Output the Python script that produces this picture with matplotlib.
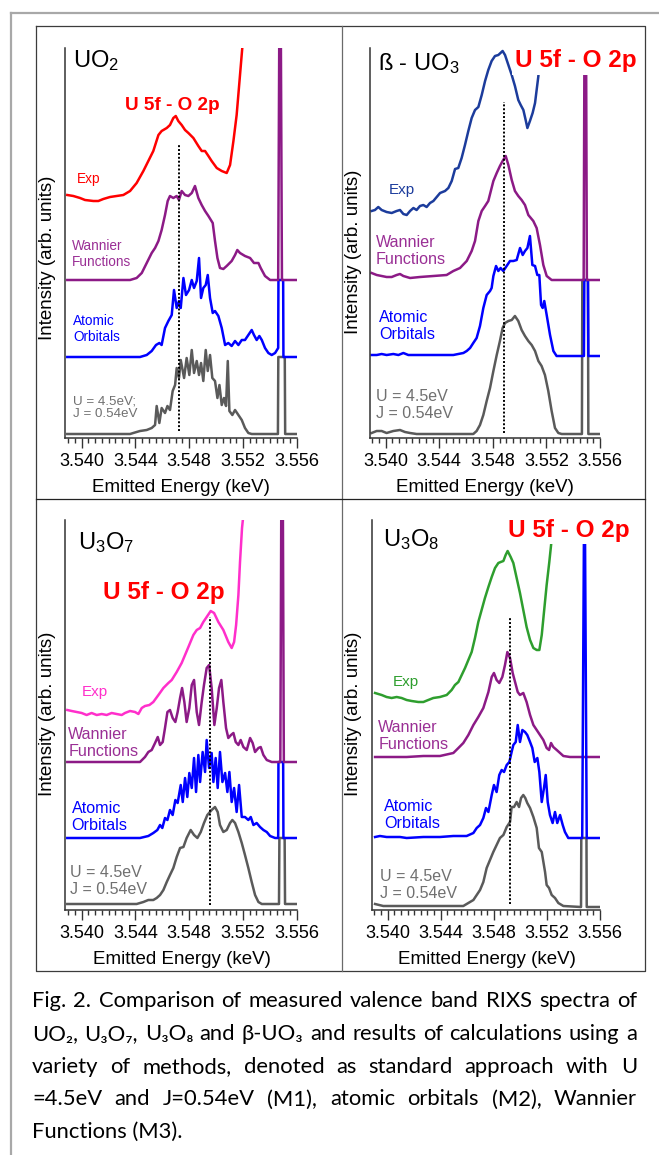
import matplotlib
matplotlib.use("Agg")
from matplotlib import pyplot as plt
from matplotlib.ticker import MultipleLocator
import numpy as np

plt.rcParams["font.family"] = ["Liberation Sans", "DejaVu Sans"]
plt.rcParams["mathtext.fontset"] = "custom"
plt.rcParams["mathtext.rm"] = "Liberation Sans"
plt.rcParams["mathtext.it"] = "Liberation Sans:italic"
plt.rcParams["mathtext.bf"] = "Liberation Sans:bold"

# spectra: (emitted energy keV, stacked intensity arb. units)
uo2_exp = [(3.53893, 243), (3.53938, 242), (3.53988, 240), (3.54025, 238), (3.54087, 237), (3.54124, 237),
           (3.54161, 239), (3.54211, 241), (3.54260, 242), (3.54310, 243), (3.54360, 247), (3.54409, 255),
           (3.54459, 267), (3.54496, 277), (3.54533, 287), (3.54571, 303), (3.54595, 307), (3.54633, 310),
           (3.54657, 313), (3.54682, 320), (3.54700, 322), (3.54719, 317), (3.54744, 313), (3.54769, 308),
           (3.54794, 305), (3.54831, 300), (3.54868, 292), (3.54893, 287), (3.54918, 287), (3.54943, 282),
           (3.54967, 277), (3.55005, 270), (3.55042, 267), (3.55079, 265), (3.55104, 273), (3.55129, 297),
           (3.55153, 323), (3.55178, 363), (3.55198, 395)]
uo2_wf = [(3.53893, 158), (3.54360, 158), (3.54409, 160), (3.54447, 165), (3.54484, 175), (3.54521, 185),
          (3.54546, 190), (3.54571, 197), (3.54595, 208), (3.54620, 223), (3.54640, 237), (3.54657, 242),
          (3.54682, 240), (3.54707, 242), (3.54724, 238), (3.54744, 247), (3.54769, 243), (3.54794, 242),
          (3.54819, 245), (3.54843, 252), (3.54868, 240), (3.54893, 233), (3.54918, 227), (3.54943, 222),
          (3.54975, 215), (3.54992, 197), (3.55010, 180), (3.55029, 170), (3.55054, 169), (3.55079, 172),
          (3.55116, 177), (3.55141, 183), (3.55158, 188), (3.55178, 185), (3.55215, 182), (3.55253, 180),
          (3.55282, 175), (3.55315, 175), (3.55332, 170), (3.55364, 162), (3.55402, 158), (3.55462, 158),
          (3.55470, 400), (3.55482, 400), (3.55490, 158), (3.55600, 158)]
uo2_ao = [(3.53893, 81), (3.54434, 81), (3.54484, 83), (3.54521, 87), (3.54553, 93), (3.54578, 95),
          (3.54595, 93), (3.54620, 110), (3.54645, 117), (3.54670, 123), (3.54687, 148), (3.54707, 130),
          (3.54724, 137), (3.54737, 130), (3.54757, 160), (3.54776, 143), (3.54799, 148), (3.54819, 158),
          (3.54836, 150), (3.54856, 157), (3.54873, 180), (3.54888, 140), (3.54905, 150), (3.54923, 153),
          (3.54938, 163), (3.54955, 140), (3.54975, 125), (3.54992, 127), (3.55017, 122), (3.55042, 110),
          (3.55067, 93), (3.55091, 95), (3.55116, 92), (3.55141, 97), (3.55166, 93), (3.55191, 98),
          (3.55215, 98), (3.55240, 103), (3.55265, 108), (3.55282, 103), (3.55302, 98), (3.55322, 102),
          (3.55340, 98), (3.55364, 90), (3.55389, 85), (3.55414, 83), (3.55439, 85), (3.55462, 90),
          (3.55464, 158), (3.55499, 158), (3.55501, 81), (3.55600, 81)]
uo2_m1 = [(3.53893, 4), (3.54360, 4), (3.54384, 5), (3.54434, 7), (3.54484, 8), (3.54521, 10),
          (3.54546, 13), (3.54558, 32), (3.54578, 15), (3.54595, 30), (3.54620, 25), (3.54638, 32),
          (3.54657, 28), (3.54677, 47), (3.54695, 53), (3.54707, 70), (3.54724, 60), (3.54737, 78),
          (3.54762, 60), (3.54781, 80), (3.54801, 63), (3.54819, 88), (3.54836, 65), (3.54856, 77),
          (3.54873, 63), (3.54888, 75), (3.54905, 57), (3.54923, 88), (3.54938, 67), (3.54955, 83),
          (3.54972, 60), (3.54992, 57), (3.55010, 40), (3.55025, 53), (3.55042, 33), (3.55059, 40),
          (3.55074, 32), (3.55087, 77), (3.55099, 27), (3.55121, 23), (3.55141, 28), (3.55166, 23),
          (3.55191, 18), (3.55215, 10), (3.55240, 5), (3.55265, 4), (3.55460, 4), (3.55463, 81),
          (3.55511, 81), (3.55514, 4), (3.55600, 4)]

uo3_exp = [(3.53895, 227), (3.53920, 228), (3.53945, 231), (3.53970, 228), (3.54007, 226), (3.54045, 225),
           (3.54082, 227), (3.54107, 228), (3.54132, 224), (3.54157, 223), (3.54182, 227), (3.54207, 230),
           (3.54231, 228), (3.54256, 232), (3.54281, 233), (3.54306, 231), (3.54331, 235), (3.54356, 237),
           (3.54381, 241), (3.54406, 245), (3.54443, 247), (3.54468, 250), (3.54493, 257), (3.54518, 269),
           (3.54542, 270), (3.54567, 280), (3.54592, 293), (3.54617, 307), (3.54642, 320), (3.54667, 328),
           (3.54692, 331), (3.54717, 343), (3.54742, 357), (3.54766, 368), (3.54791, 377), (3.54816, 382),
           (3.54841, 383), (3.54873, 387), (3.54891, 383), (3.54916, 373), (3.54941, 363), (3.54965, 352),
           (3.54990, 338), (3.55008, 333), (3.55028, 328), (3.55045, 318), (3.55058, 310), (3.55077, 317),
           (3.55097, 325), (3.55115, 335), (3.55127, 348), (3.55140, 362), (3.55152, 395)]
uo3_wf = [(3.53895, 165), (3.53933, 163), (3.53970, 162), (3.54007, 161), (3.54045, 161), (3.54082, 163),
          (3.54107, 164), (3.54132, 162), (3.54182, 160), (3.54256, 161), (3.54356, 162), (3.54455, 163),
          (3.54505, 167), (3.54555, 170), (3.54605, 177), (3.54642, 187), (3.54667, 197), (3.54692, 217),
          (3.54717, 227), (3.54742, 232), (3.54766, 237), (3.54804, 257), (3.54829, 265), (3.54853, 272),
          (3.54873, 277), (3.54896, 282), (3.54916, 273), (3.54941, 258), (3.54965, 247), (3.54990, 242),
          (3.55015, 238), (3.55040, 233), (3.55065, 223), (3.55102, 217), (3.55127, 210), (3.55152, 193),
          (3.55177, 173), (3.55202, 162), (3.55239, 158), (3.55478, 158), (3.55484, 400), (3.55496, 400),
          (3.55502, 158), (3.55600, 158)]
uo3_ao = [(3.53895, 83), (3.53933, 83), (3.53970, 84), (3.54007, 83), (3.54057, 84), (3.54095, 83),
          (3.54132, 85), (3.54169, 83), (3.54207, 83), (3.54505, 83), (3.54542, 84), (3.54580, 85),
          (3.54605, 87), (3.54630, 90), (3.54654, 95), (3.54679, 100), (3.54704, 112), (3.54729, 130),
          (3.54754, 143), (3.54779, 147), (3.54791, 150), (3.54804, 162), (3.54824, 172), (3.54841, 167),
          (3.54858, 170), (3.54878, 167), (3.54903, 172), (3.54928, 177), (3.54953, 177), (3.54978, 178),
          (3.55003, 190), (3.55023, 183), (3.55040, 187), (3.55058, 190), (3.55077, 202), (3.55095, 173),
          (3.55115, 172), (3.55132, 163), (3.55147, 163), (3.55160, 133), (3.55172, 130), (3.55184, 137),
          (3.55202, 123), (3.55227, 103), (3.55252, 87), (3.55276, 82), (3.55480, 82), (3.55483, 158),
          (3.55510, 158), (3.55513, 82), (3.55600, 82)]
uo3_m1 = [(3.53895, 5), (3.53933, 7), (3.53970, 7), (3.54007, 5), (3.54057, 7), (3.54107, 8),
          (3.54144, 6), (3.54182, 5), (3.54231, 4), (3.54654, 4), (3.54679, 7), (3.54704, 13),
          (3.54729, 23), (3.54754, 37), (3.54779, 50), (3.54804, 67), (3.54829, 83), (3.54853, 97),
          (3.54873, 110), (3.54891, 115), (3.54916, 117), (3.54941, 118), (3.54965, 122), (3.54990, 117),
          (3.55015, 108), (3.55040, 102), (3.55065, 97), (3.55090, 93), (3.55115, 87), (3.55140, 77),
          (3.55164, 72), (3.55189, 63), (3.55214, 47), (3.55239, 27), (3.55264, 10), (3.55289, 5),
          (3.55314, 4), (3.55465, 4), (3.55468, 158), (3.55510, 158), (3.55513, 4), (3.55600, 4)]

u3o7_exp = [(3.53893, 200), (3.53926, 199), (3.53963, 198), (3.54000, 197), (3.54037, 195), (3.54074, 197),
            (3.54112, 195), (3.54149, 196), (3.54186, 195), (3.54223, 197), (3.54260, 196), (3.54298, 195),
            (3.54322, 197), (3.54360, 199), (3.54397, 198), (3.54422, 196), (3.54447, 202), (3.54471, 204),
            (3.54504, 205), (3.54533, 208), (3.54571, 215), (3.54608, 222), (3.54645, 227), (3.54670, 230),
            (3.54707, 238), (3.54744, 247), (3.54769, 255), (3.54794, 263), (3.54831, 275), (3.54856, 280),
            (3.54881, 282), (3.54905, 288), (3.54930, 293), (3.54960, 299), (3.54985, 297), (3.55017, 288),
            (3.55054, 280), (3.55091, 268), (3.55116, 262), (3.55134, 268), (3.55149, 285), (3.55166, 315),
            (3.55178, 348), (3.55193, 382), (3.55203, 395)]
u3o7_wf = [(3.53893, 148), (3.54434, 148), (3.54471, 153), (3.54496, 158), (3.54521, 160), (3.54546, 167),
           (3.54566, 173), (3.54583, 165), (3.54603, 168), (3.54620, 182), (3.54638, 198), (3.54657, 200),
           (3.54677, 192), (3.54697, 188), (3.54714, 198), (3.54732, 212), (3.54747, 222), (3.54764, 208),
           (3.54781, 188), (3.54801, 202), (3.54819, 225), (3.54836, 230), (3.54856, 198), (3.54873, 185),
           (3.54893, 208), (3.54910, 225), (3.54930, 242), (3.54948, 245), (3.54967, 222), (3.54987, 185),
           (3.55005, 202), (3.55022, 222), (3.55039, 230), (3.55054, 208), (3.55074, 182), (3.55091, 172),
           (3.55111, 175), (3.55129, 177), (3.55146, 168), (3.55166, 165), (3.55183, 170), (3.55203, 163),
           (3.55228, 160), (3.55253, 172), (3.55272, 167), (3.55290, 158), (3.55315, 162), (3.55332, 163),
           (3.55352, 155), (3.55377, 150), (3.55414, 148), (3.55478, 148), (3.55485, 400), (3.55497, 400),
           (3.55504, 148), (3.55600, 148)]
u3o7_ao = [(3.53893, 72), (3.54434, 72), (3.54496, 74), (3.54533, 77), (3.54563, 80), (3.54583, 85),
           (3.54600, 82), (3.54620, 92), (3.54638, 90), (3.54657, 100), (3.54677, 95), (3.54697, 110),
           (3.54714, 107), (3.54737, 125), (3.54752, 108), (3.54769, 132), (3.54786, 113), (3.54801, 137),
           (3.54819, 122), (3.54836, 152), (3.54851, 118), (3.54868, 155), (3.54881, 128), (3.54900, 158),
           (3.54918, 138), (3.54930, 170), (3.54948, 142), (3.54967, 157), (3.54980, 128), (3.54997, 152),
           (3.55012, 122), (3.55029, 158), (3.55047, 128), (3.55067, 137), (3.55084, 118), (3.55099, 138),
           (3.55116, 108), (3.55134, 122), (3.55153, 98), (3.55171, 125), (3.55191, 93), (3.55215, 93),
           (3.55240, 90), (3.55258, 93), (3.55278, 85), (3.55302, 87), (3.55327, 83), (3.55352, 80),
           (3.55377, 78), (3.55402, 74), (3.55439, 72), (3.55462, 72), (3.55464, 148), (3.55499, 148),
           (3.55501, 72), (3.55600, 72)]
u3o7_m1 = [(3.53893, 6), (3.54360, 6), (3.54409, 6), (3.54459, 8), (3.54496, 10), (3.54533, 10),
           (3.54558, 12), (3.54583, 15), (3.54608, 20), (3.54633, 28), (3.54657, 35), (3.54682, 42),
           (3.54707, 53), (3.54732, 62), (3.54757, 63), (3.54781, 72), (3.54811, 80), (3.54836, 75),
           (3.54861, 72), (3.54886, 78), (3.54910, 87), (3.54935, 95), (3.54967, 100), (3.54992, 103),
           (3.55012, 98), (3.55029, 85), (3.55054, 78), (3.55079, 80), (3.55104, 87), (3.55121, 90),
           (3.55141, 87), (3.55166, 78), (3.55191, 67), (3.55215, 55), (3.55240, 42), (3.55265, 28),
           (3.55290, 15), (3.55315, 8), (3.55340, 6), (3.55468, 6), (3.55471, 72), (3.55510, 72),
           (3.55513, 6), (3.55600, 6)]

u3o8_exp = [(3.53905, 217), (3.53930, 216), (3.53955, 215), (3.53992, 213), (3.54030, 212), (3.54068, 213),
            (3.54105, 212), (3.54143, 210), (3.54181, 209), (3.54231, 208), (3.54269, 208), (3.54306, 210),
            (3.54344, 212), (3.54394, 213), (3.54445, 215), (3.54482, 220), (3.54507, 225), (3.54533, 228),
            (3.54558, 235), (3.54583, 242), (3.54608, 250), (3.54633, 258), (3.54658, 272), (3.54683, 288),
            (3.54708, 300), (3.54733, 312), (3.54759, 323), (3.54784, 333), (3.54809, 342), (3.54834, 347),
            (3.54852, 348), (3.54872, 349), (3.54889, 355), (3.54904, 359), (3.54927, 353), (3.54947, 347),
            (3.54972, 332), (3.54997, 317), (3.55022, 300), (3.55047, 283), (3.55073, 270), (3.55098, 262),
            (3.55123, 260), (3.55143, 260), (3.55161, 275), (3.55178, 298), (3.55198, 325), (3.55218, 348),
            (3.55233, 367), (3.55248, 395)]
u3o8_wf = [(3.53905, 153), (3.54018, 153), (3.54143, 153), (3.54269, 154), (3.54394, 154), (3.54495, 157),
           (3.54533, 162), (3.54570, 167), (3.54608, 175), (3.54646, 185), (3.54683, 193), (3.54721, 202),
           (3.54759, 218), (3.54784, 233), (3.54801, 237), (3.54821, 230), (3.54841, 227), (3.54864, 233),
           (3.54884, 245), (3.54902, 258), (3.54922, 252), (3.54942, 237), (3.54960, 228), (3.54980, 218),
           (3.54997, 215), (3.55022, 217), (3.55047, 208), (3.55073, 195), (3.55098, 185), (3.55123, 180),
           (3.55148, 175), (3.55173, 170), (3.55198, 162), (3.55216, 160), (3.55231, 167), (3.55248, 163),
           (3.55274, 160), (3.55299, 157), (3.55324, 154), (3.55374, 153), (3.55600, 153)]
u3o8_ao = [(3.53905, 73), (3.53942, 74), (3.53992, 73), (3.54043, 73), (3.54093, 73), (3.54143, 72),
           (3.54269, 73), (3.54394, 73), (3.54495, 74), (3.54595, 74), (3.54646, 77), (3.54671, 82),
           (3.54696, 85), (3.54721, 92), (3.54741, 102), (3.54759, 98), (3.54784, 115), (3.54801, 125),
           (3.54821, 118), (3.54841, 135), (3.54859, 140), (3.54877, 138), (3.54897, 145), (3.54917, 148),
           (3.54934, 158), (3.54947, 165), (3.54965, 168), (3.54980, 185), (3.54997, 168), (3.55015, 180),
           (3.55035, 178), (3.55052, 175), (3.55073, 168), (3.55090, 162), (3.55108, 148), (3.55128, 152),
           (3.55143, 138), (3.55161, 108), (3.55178, 122), (3.55191, 135), (3.55206, 108), (3.55223, 95),
           (3.55243, 87), (3.55261, 98), (3.55278, 87), (3.55299, 95), (3.55319, 85), (3.55336, 78),
           (3.55361, 72), (3.55466, 72), (3.55480, 400), (3.55486, 400), (3.55500, 72), (3.55600, 72)]
u3o8_m1 = [(3.53905, 6), (3.53967, 4), (3.54143, 4), (3.54570, 4), (3.54608, 7), (3.54646, 10),
           (3.54671, 15), (3.54696, 20), (3.54721, 28), (3.54746, 42), (3.54771, 50), (3.54796, 58),
           (3.54821, 65), (3.54846, 72), (3.54872, 75), (3.54897, 83), (3.54922, 88), (3.54934, 103),
           (3.54952, 103), (3.54972, 108), (3.54990, 103), (3.55005, 112), (3.55022, 115), (3.55037, 112),
           (3.55052, 107), (3.55073, 102), (3.55098, 93), (3.55123, 82), (3.55140, 62), (3.55161, 58),
           (3.55186, 38), (3.55198, 25), (3.55216, 22), (3.55236, 15), (3.55261, 12), (3.55286, 7),
           (3.55324, 4), (3.55457, 3), (3.55459, 72), (3.55498, 72), (3.55500, 3), (3.55600, 3)]

# dotted marker of the U 5f - O 2p peak: energy, from, to
uo2_peak = (3.54724, 7, 293)
uo3_peak = (3.54886, 5, 336)
u3o7_peak = (3.54955, 5, 293)
u3o8_peak = (3.54922, 6, 292)

xticks = [3.540, 3.544, 3.548, 3.552, 3.556]

caption = [
    "Fig. 2. Comparison of measured valence band RIXS spectra of",
    "UO\u2082, U\u2083O\u2087, U\u2083O\u2088 and \u03b2-UO\u2083 and results of calculations using a",
    "variety of methods, denoted as standard approach with U",
    "=4.5eV and J=0.54eV (M1), atomic orbitals (M2), Wannier",
    "Functions (M3).",
]

RED = "#ff0000"
PURPLE = "#8c1a86"
BLUE = "#0000ff"
GRAY = "#5a5a5a"

W, H = 659, 1155
fig = plt.figure(figsize=(W / 100, H / 100), dpi=100)
bg = fig.add_axes([0, 0, 1, 1])
bg.set_xlim(0, W)
bg.set_ylim(H, 0)
bg.axis("off")

# page frame and table grid
bg.plot([11, 11], [13, H], color="#a8a8a8", lw=1.6, clip_on=False)
bg.plot([11, W], [13, 13], color="#a8a8a8", lw=1.6, clip_on=False)
bg.plot([36, 645, 645, 36, 36], [26, 26, 971, 971, 26], color="#3c3c3c", lw=0.9)
bg.plot([342, 342], [26, 971], color="#6a6a6a", lw=0.9)
bg.plot([36, 645], [499, 499], color="#222222", lw=0.9)


def panel(box, xlim, curves, peak, labels):
    left, top, right, bottom = box
    ax = fig.add_axes([left / W, 1 - bottom / H, (right - left) / W, (bottom - top) / H])
    ax.set_facecolor("none")
    for data, color, z in curves:
        e, h = np.array(data).T
        ax.plot(e, h, color=color, lw=1.8, zorder=z, solid_joinstyle="round")
    ax.plot([peak[0], peak[0]], [peak[1], peak[2]], color="black", lw=1.4,
            ls=(0, (1, 1)), zorder=3)
    ax.set_xlim(*xlim)
    ax.set_ylim(0, 390)
    ax.set_xticks(xticks)
    ax.set_xticklabels([f"{t:.3f}" for t in xticks])
    ax.xaxis.set_minor_locator(MultipleLocator(0.0005))
    ax.tick_params(axis="x", which="major", length=7, width=1, pad=4,
                   labelsize=13, color="#333333")
    ax.tick_params(axis="x", which="minor", length=3.5, width=1, color="#333333")
    ax.tick_params(axis="y", left=False, labelleft=False)
    ax.spines[["top", "right"]].set_visible(False)
    for s in ("left", "bottom"):
        ax.spines[s].set_color("#333333")
        ax.spines[s].set_linewidth(1.1)
    for x, y, s, kw in labels:
        ax.text(x, y, s, va="center", **kw)
    return ax


def tag(color, size, **kw):
    d = dict(color=color, fontsize=size, ha="left", linespacing=1.1)
    d.update(kw)
    return d


box_kw = dict(facecolor="white", edgecolor="none", pad=2)

panel((65, 48, 297, 438), (3.53876, 3.55602),
      [(uo2_m1, GRAY, 2.0), (uo2_ao, BLUE, 2.1), (uo2_wf, PURPLE, 2.2), (uo2_exp, RED, 2.3)],
      uo2_peak,
      [(3.53938, 377, "UO$_2$", tag("black", 17)),
       (3.54675, 332, "U 5f - O 2p", tag(RED, 13.7, ha="center", fontweight="bold")),
       (3.53963, 259, "Exp", tag(RED, 9.8)),
       (3.53926, 184, "Wannier\nFunctions", tag("#9a2f95", 9.8)),
       (3.53938, 109, "Atomic\nOrbitals", tag(BLUE, 9.8)),
       (3.53938, 30, "U = 4.5eV;\nJ = 0.54eV", tag("#707070", 9.6))])

panel((370, 48, 600, 438), (3.53883, 3.55600),
      [(uo3_m1, GRAY, 2.0), (uo3_ao, BLUE, 2.1), (uo3_wf, PURPLE, 2.2), (uo3_exp, "#1c3c9c", 2.3)],
      uo3_peak,
      [(3.53945, 374, "\u00df - UO$_3$", tag("black", 17)),
       (3.54965, 377, "U 5f - O 2p", tag(RED, 17.5, fontweight="bold", bbox=box_kw, zorder=5)),
       (3.54020, 248, "Exp", tag("#1c3c9c", 11)),
       (3.53928, 187, "Wannier\nFunctions", tag("#9a2f95", 11.6)),
       (3.53953, 112, "Atomic\nOrbitals", tag(BLUE, 11.6)),
       (3.53928, 33, "U = 4.5eV\nJ = 0.54eV", tag("#707070", 11.5))])

panel((65, 520, 297, 910), (3.53876, 3.55602),
      [(u3o7_m1, GRAY, 2.0), (u3o7_ao, BLUE, 2.1), (u3o7_wf, PURPLE, 2.2), (u3o7_exp, "#ff2fcb", 2.3)],
      u3o7_peak,
      [(3.53975, 367, "U$_3$O$_7$", tag("black", 17)),
       (3.54161, 318, "U 5f - O 2p", tag(RED, 17.5, fontweight="bold")),
       (3.54000, 218, "Exp", tag("#ff2fcb", 11)),
       (3.53901, 167, "Wannier\nFunctions", tag("#9a2f95", 11.6)),
       (3.53926, 93, "Atomic\nOrbitals", tag(BLUE, 11.6)),
       (3.53913, 29, "U = 4.5eV\nJ = 0.54eV", tag("#707070", 11.5))])

panel((372, 520, 600, 910), (3.53882, 3.55600),
      [(u3o8_m1, GRAY, 2.0), (u3o8_wf, PURPLE, 2.1), (u3o8_ao, BLUE, 2.2), (u3o8_exp, "#2e9e2e", 2.3)],
      u3o8_peak,
      [(3.53967, 370, "U$_3$O$_8$", tag("black", 17)),
       (3.54909, 380, "U 5f - O 2p", tag(RED, 17.5, fontweight="bold", bbox=box_kw, zorder=5)),
       (3.54038, 228, "Exp", tag("#2e9e2e", 11)),
       (3.53930, 174, "Wannier\nFunctions", tag("#9a2f95", 11.6)),
       (3.53975, 95, "Atomic\nOrbitals", tag(BLUE, 11.6)),
       (3.53942, 25, "U = 4.5eV\nJ = 0.54eV", tag("#707070", 11.5))])

# axis titles
for x, y in [(181, 488), (485, 488), (182, 960), (487, 960)]:
    bg.text(x, y, "Emitted Energy (keV)", fontsize=13.5, ha="center", va="center")
for x, y in [(48, 258), (353, 252), (48, 714), (353, 714)]:
    bg.text(x, y, "Intensity (arb. units)", fontsize=13.5, ha="center", va="center", rotation=90)

# justified caption
cap_font = dict(family=["Lato", "DejaVu Sans"], fontsize=15.8, color="black", va="baseline")
renderer = fig.canvas.get_renderer()
x0, x1 = 32, 637
for i, line in enumerate(caption):
    y = 1007 + i * 32.8
    if i == len(caption) - 1:
        bg.text(x0, y, line, ha="left", **cap_font)
        continue
    words = line.split()
    arts = [bg.text(0, y, w, ha="left", **cap_font) for w in words]
    widths = [a.get_window_extent(renderer).width for a in arts]
    gap = (x1 - x0 - sum(widths)) / (len(words) - 1)
    x = x0
    for a, w in zip(arts, widths):
        a.set_x(x)
        x += w + gap

fig.savefig("out.png", dpi=100)
